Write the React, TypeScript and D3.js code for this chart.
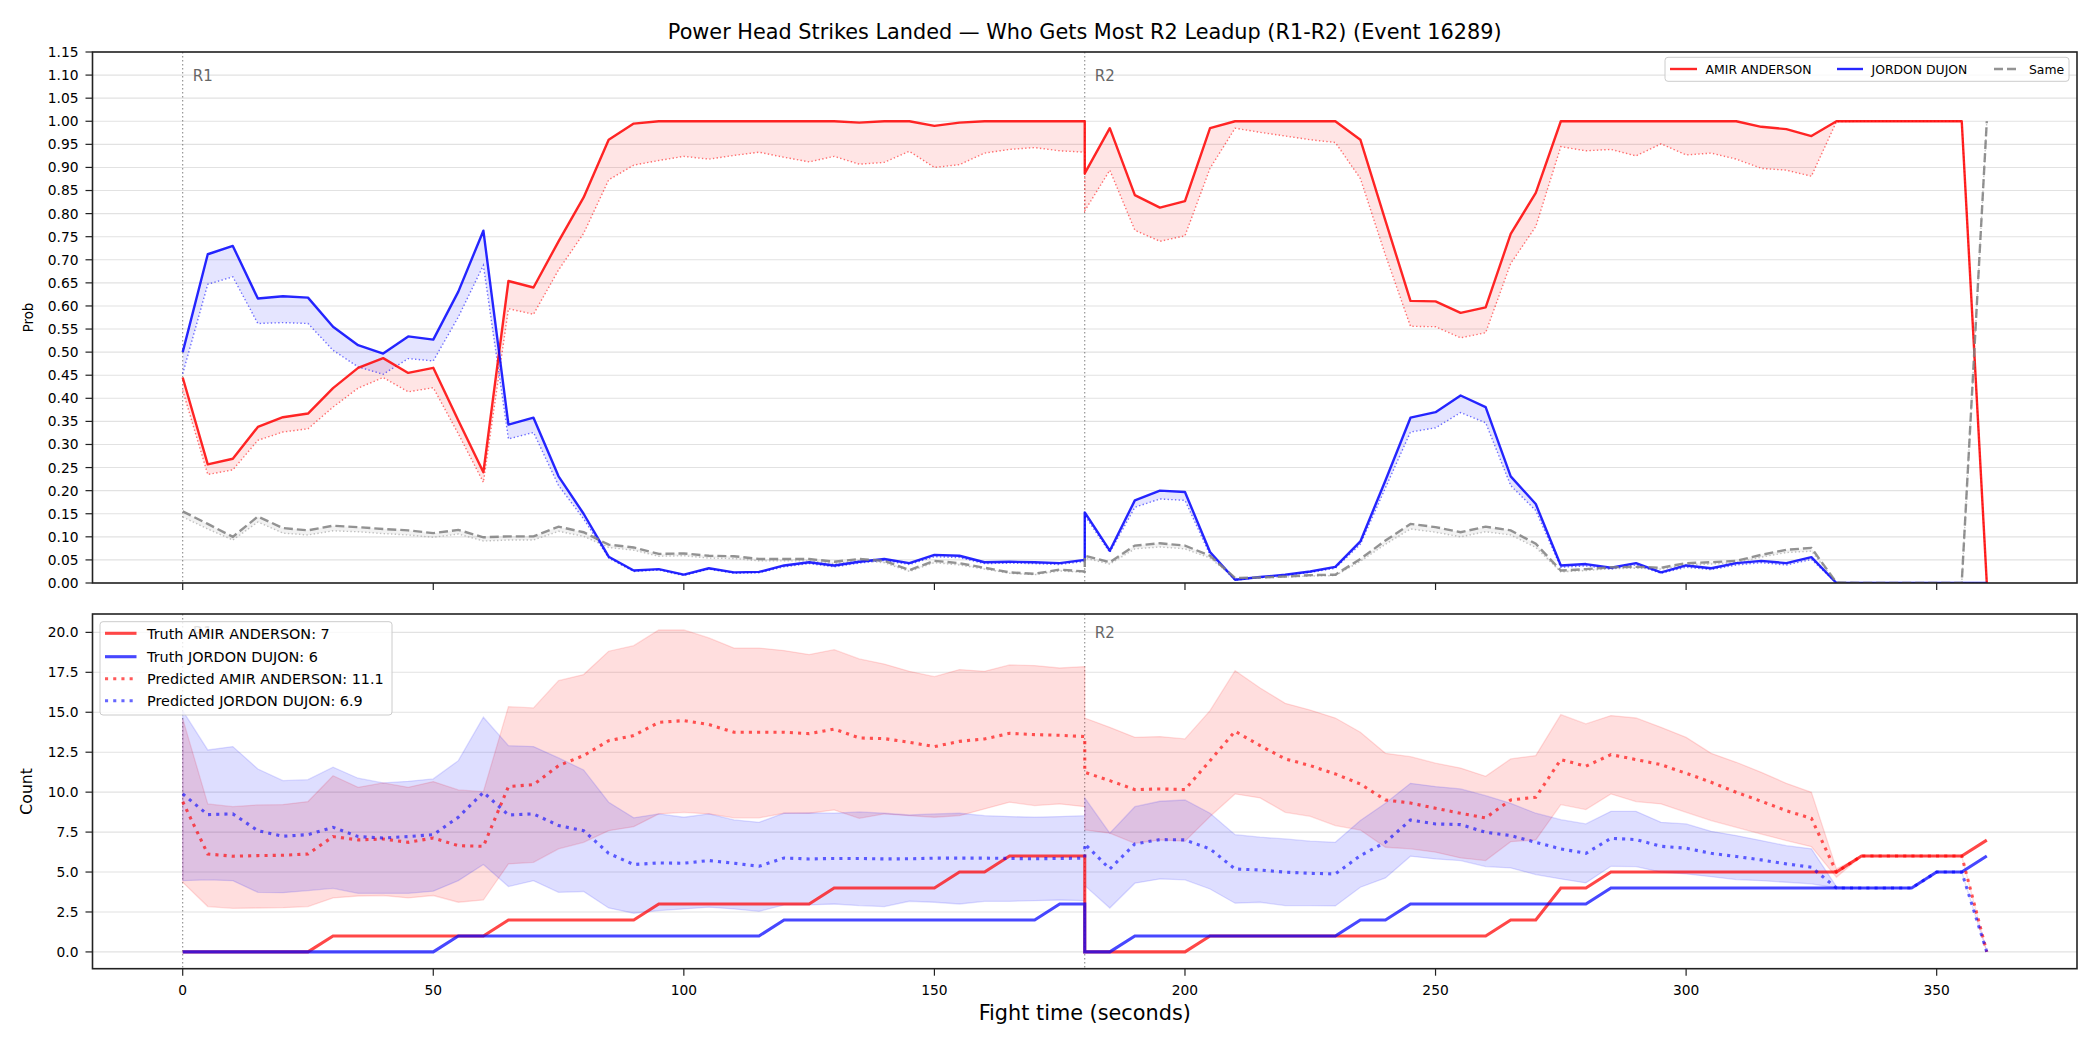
import React from 'react';
import * as d3 from 'd3';

// ---------- DATA ----------
const timeR1 = [0,5,10,15,20,25,30,35,40,45,50,55,60,65,70,75,80,85,90,95,100,105,110,115,120,125,130,135,140,145,150,155,160,165,170,175,180];
const timeR2 = [180,185,190,195,200,205,210,215,220,225,230,235,240,245,250,255,260,265,270,275,280,285,290,295,300,305,310,315,320,325,330,335,340,345,350,355,360];

const fighterA = 'AMIR ANDERSON';
const fighterB = 'JORDON DUJON';

// Top panel: probabilities (solid) and their lower dotted counterparts
const amirProb = [
  0.445,0.257,0.269,0.338,0.359,0.367,0.422,0.466,0.487,0.455,0.466,0.352,0.240,0.654,0.640,0.740,0.835,0.960,0.995,1.0,1.0,1.0,1.0,1.0,1.0,1.0,1.0,0.997,1.0,1.0,0.990,0.997,1.0,1.0,1.0,1.0,1.0,
  0.887,0.985,0.840,0.813,0.827,0.985,1.0,1.0,1.0,1.0,1.0,0.960,0.785,0.611,0.610,0.585,0.597,0.756,0.845,1.0,1.0,1.0,1.0,1.0,1.0,1.0,1.0,0.988,0.983,0.968,1.0,1.0,1.0,1.0,1.0,1.0,0.0,
];
const amirProbLow = [
  0.417,0.235,0.245,0.309,0.327,0.334,0.381,0.422,0.445,0.414,0.423,0.323,0.218,0.594,0.582,0.678,0.757,0.873,0.905,0.915,0.924,0.918,0.926,0.933,0.922,0.912,0.924,0.907,0.911,0.935,0.900,0.906,0.931,0.939,0.943,0.936,0.933,
  0.806,0.894,0.764,0.740,0.752,0.898,0.985,0.976,0.968,0.960,0.954,0.876,0.710,0.556,0.555,0.531,0.542,0.692,0.772,0.945,0.936,0.939,0.925,0.951,0.927,0.931,0.918,0.898,0.894,0.881,0.999,1.0,1.0,1.0,1.0,1.0,0.0,
];
const jordonProb = [
  0.500,0.712,0.730,0.616,0.621,0.618,0.555,0.515,0.497,0.534,0.527,0.631,0.763,0.343,0.358,0.231,0.150,0.057,0.027,0.030,0.018,0.032,0.023,0.024,0.038,0.045,0.038,0.046,0.052,0.043,0.061,0.059,0.045,0.046,0.045,0.043,0.050,
  0.153,0.070,0.179,0.200,0.197,0.067,0.007,0.013,0.018,0.025,0.035,0.090,0.222,0.358,0.370,0.406,0.381,0.231,0.171,0.038,0.041,0.033,0.043,0.023,0.038,0.032,0.043,0.048,0.043,0.056,0.0,0.0,0.0,0.0,0.0,0.0,0.0,
];
const jordonProbLow = [
  0.453,0.647,0.663,0.562,0.564,0.562,0.504,0.468,0.452,0.486,0.481,0.576,0.688,0.312,0.326,0.211,0.139,0.054,0.025,0.028,0.016,0.030,0.021,0.022,0.035,0.042,0.035,0.043,0.049,0.040,0.057,0.055,0.042,0.043,0.042,0.040,0.047,
  0.146,0.066,0.164,0.182,0.179,0.061,0.006,0.012,0.017,0.023,0.032,0.084,0.206,0.327,0.336,0.369,0.347,0.211,0.157,0.034,0.037,0.030,0.039,0.021,0.034,0.029,0.039,0.044,0.039,0.051,0.0,0.0,0.0,0.0,0.0,0.0,0.0,
];
const sameProb = [
  0.155,0.128,0.100,0.144,0.119,0.114,0.124,0.121,0.117,0.114,0.108,0.115,0.099,0.101,0.101,0.122,0.110,0.083,0.077,0.063,0.064,0.059,0.058,0.052,0.052,0.052,0.046,0.052,0.048,0.028,0.048,0.043,0.033,0.023,0.020,0.029,0.025,
  0.059,0.045,0.081,0.086,0.081,0.059,0.011,0.012,0.014,0.017,0.018,0.052,0.092,0.128,0.121,0.110,0.122,0.114,0.085,0.027,0.030,0.034,0.035,0.033,0.043,0.045,0.048,0.061,0.072,0.076,0.001,0.0,0.0,0.0,0.0,0.0,1.0,
];
const sameProbLow = [
  0.143,0.117,0.093,0.132,0.108,0.104,0.113,0.111,0.107,0.104,0.099,0.106,0.091,0.093,0.093,0.112,0.101,0.077,0.071,0.058,0.059,0.054,0.053,0.048,0.048,0.048,0.042,0.048,0.044,0.025,0.044,0.039,0.030,0.021,0.018,0.026,0.023,
  0.054,0.041,0.074,0.078,0.074,0.054,0.010,0.011,0.013,0.015,0.016,0.047,0.084,0.117,0.110,0.100,0.111,0.104,0.077,0.024,0.027,0.031,0.032,0.030,0.039,0.041,0.044,0.056,0.066,0.069,0.001,0.0,0.0,0.0,0.0,0.0,1.0,
];

// Bottom panel: counts
const amirTruth = [
  0,0,0,0,0,0,1,1,1,1,1,1,1,2,2,2,2,2,2,3,3,3,3,3,3,3,4,4,4,4,4,5,5,6,6,6,6,
  0,0,0,0,0,1,1,1,1,1,1,1,1,1,1,1,1,2,2,4,4,5,5,5,5,5,5,5,5,5,5,6,6,6,6,6,7,
];
const jordonTruth = [
  0,0,0,0,0,0,0,0,0,0,0,1,1,1,1,1,1,1,1,1,1,1,1,1,2,2,2,2,2,2,2,2,2,2,2,3,3,
  0,0,1,1,1,1,1,1,1,1,1,2,2,3,3,3,3,3,3,3,3,4,4,4,4,4,4,4,4,4,4,4,4,4,5,5,6,
];
const amirPred = [
  9.4,6.13,5.99,6.03,6.05,6.13,7.22,7.01,7.07,6.86,7.13,6.65,6.61,10.35,10.47,11.66,12.29,13.22,13.54,14.37,14.48,14.23,13.75,13.75,13.75,13.66,13.95,13.39,13.35,13.12,12.85,13.18,13.33,13.68,13.6,13.56,13.48,
  11.24,10.72,10.16,10.2,10.16,11.97,13.81,12.91,12.08,11.66,11.14,10.51,9.51,9.32,8.99,8.68,8.39,9.51,9.68,12.04,11.62,12.35,12.04,11.72,11.18,10.62,9.99,9.43,8.84,8.36,5.0,6,6,6,6,6,0,
];
const jordonPred = [
  9.89,8.59,8.64,7.59,7.24,7.34,7.80,7.22,7.13,7.22,7.34,8.43,9.99,8.57,8.64,7.91,7.59,6.17,5.47,5.57,5.55,5.72,5.55,5.36,5.88,5.82,5.85,5.85,5.82,5.83,5.87,5.87,5.87,5.85,5.83,5.85,5.87,
  6.76,5.19,6.76,7.03,7.01,6.45,5.19,5.13,4.99,4.92,4.88,6.03,6.86,8.26,8.01,7.97,7.49,7.28,6.86,6.45,6.17,7.11,7.03,6.61,6.49,6.17,5.97,5.76,5.51,5.30,4.0,4,4,4,5,5,0,
];
const amirHigh = [
  14.6,9.26,9.09,9.2,9.22,9.41,11.03,10.30,10.58,10.30,10.66,10.14,10.03,15.35,15.27,16.98,17.36,18.82,19.17,20.15,20.15,19.65,19.02,19.02,18.86,18.61,18.92,18.34,18.02,17.56,17.23,17.67,17.56,17.96,17.92,17.77,17.86,
  14.64,14.06,13.43,13.48,13.33,15.1,17.6,16.52,15.56,15.14,14.64,13.75,12.43,12.22,11.81,11.51,10.99,12.08,12.29,14.85,14.27,14.79,14.64,14.06,13.43,12.43,11.87,11.24,10.55,9.99,5.2,6,6,6,6,6,0,
];
const amirLow = [
  4.36,2.84,2.73,2.75,2.77,2.84,3.38,3.50,3.53,3.38,3.53,3.11,3.25,5.51,5.61,6.45,6.86,7.59,7.84,8.64,8.74,8.64,8.39,8.39,8.68,8.68,8.89,8.36,8.64,8.53,8.43,8.53,8.95,9.37,9.16,9.26,9.09,
  7.63,7.43,6.8,7.01,6.93,8.47,9.89,9.64,8.74,8.49,7.91,7.63,6.55,6.45,6.24,5.88,5.72,6.9,7.01,9.22,8.91,9.89,9.41,9.26,8.74,8.22,7.8,7.38,6.97,6.59,4.67,6,6,6,6,6,0,
];
const jordonHigh = [
  15.1,12.64,12.85,11.45,10.72,10.78,11.56,10.87,10.58,10.68,10.83,11.97,14.69,12.91,12.85,12.14,11.39,9.37,8.39,8.64,8.43,8.64,8.26,8.11,8.68,8.70,8.68,8.76,8.68,8.57,8.64,8.68,8.53,8.47,8.43,8.47,8.53,
  9.64,7.43,9.09,9.43,9.51,8.68,7.34,7.18,7.07,6.93,6.86,8.22,9.3,10.55,10.35,10.2,9.78,9.30,8.68,8.28,8.01,8.80,8.80,8.11,8.01,7.55,7.28,6.97,6.65,6.45,4.09,4,4,4,5,5,0,
];
const jordonLow = [
  4.46,4.51,4.46,3.73,3.71,3.84,3.98,3.67,3.67,3.67,3.80,4.46,5.47,4.09,4.46,3.73,3.78,2.75,2.42,2.59,2.69,2.80,2.69,2.54,2.94,2.94,3.0,2.9,2.84,3.17,3.11,3.0,3.17,3.17,3.21,3.25,3.21,
  4.15,2.75,4.30,4.57,4.51,3.94,3.05,3.11,2.90,2.9,2.88,4.05,4.63,5.99,5.82,5.72,5.34,5.26,4.84,4.57,4.32,5.36,5.34,4.99,4.88,4.71,4.53,4.46,4.36,4.26,4.0,4,4,4,5,5,0,
];

const amirTruthTotal = 7;
const jordonTruthTotal = 6;
const amirPredTotal = 11.1;
const jordonPredTotal = 6.9;

const probTicks = [0,0.05,0.1,0.15,0.2,0.25,0.3,0.35,0.4,0.45,0.5,0.55,0.6,0.65,0.7,0.75,0.8,0.85,0.9,0.95,1.0,1.05,1.1,1.15];
const countTicks = [0,2.5,5,7.5,10,12.5,15,17.5,20];
const timeTicks = [0,50,100,150,200,250,300,350];
const rounds = [{ label: 'R1', t: 0 }, { label: 'R2', t: 180 }];

const time = [...timeR1, ...timeR2];

const FONT = '"DejaVu Sans", Verdana, sans-serif';

export default function App() {
  const W = 2100, H = 1050;
  const L = 92.5, R = 2077;
  const topT = 52, topB = 583, botT = 614, botB = 968.7;

  const x = d3.scaleLinear().domain([-18, 378]).range([L, R]);
  const yP = d3.scaleLinear().domain([0, 1.15]).range([topB, topT]);
  const yC = d3.scaleLinear().domain([-1.05, 21.15]).range([botB, botT]);

  const lineP = d3.line<number>().x((_, i) => x(time[i])).y((d) => yP(d));
  const lineC = d3.line<number>().x((_, i) => x(time[i])).y((d) => yC(d));
  const areaP = (lo: number[], hi: number[]) =>
    d3.area<number>().x((_, i) => x(time[i])).y0((_, i) => yP(lo[i])).y1((d) => yP(d))(hi) || '';
  const areaC = (lo: number[], hi: number[]) =>
    d3.area<number>().x((_, i) => x(time[i])).y0((_, i) => yC(lo[i])).y1((d) => yC(d))(hi) || '';

  const RED = '#ff0000';
  const BLUE = '#0000ff';
  const tickFont = 13.8;

  const frame = (t: number, b: number) => (
    <rect x={L} y={t} width={R - L} height={b - t} fill="none" stroke="#222" strokeWidth={1.6} />
  );

  return (
    <div style={{ position: 'absolute', left: 0, top: 0, background: '#fff' }}>
      <svg width={W} height={H} viewBox={`0 0 ${W} ${H}`} style={{ display: 'block', fontFamily: FONT }}>
        <defs>
          <clipPath id="clipTop"><rect x={L} y={topT} width={R - L} height={topB - topT} /></clipPath>
          <clipPath id="clipBot"><rect x={L} y={botT} width={R - L} height={botB - botT} /></clipPath>
        </defs>
        <rect x={0} y={0} width={W} height={H} fill="#fff" />

        {/* Title */}
        <text x={(L + R) / 2} y={39} textAnchor="middle" fontSize={20.8} fill="#000">
          Power Head Strikes Landed — Who Gets Most R2 Leadup (R1-R2) (Event 16289)
        </text>

        {/* ===== TOP PANEL ===== */}
        <g>
          {probTicks.map((v) => (
            <line key={'gp' + v} x1={L} x2={R} y1={yP(v)} y2={yP(v)} stroke="#e2e2e2" strokeWidth={1.1} />
          ))}
          <g clipPath="url(#clipTop)">
            {rounds.map((r) => (
              <line key={'vt' + r.label} x1={x(r.t)} x2={x(r.t)} y1={topT} y2={topB} stroke="#555" strokeOpacity={0.75} strokeWidth={1} strokeDasharray="1.5,2.5" />
            ))}
            <path d={areaP(amirProbLow, amirProb)} fill={RED} fillOpacity={0.1} />
            <path d={areaP(jordonProbLow, jordonProb)} fill={BLUE} fillOpacity={0.1} />
            <path d={areaP(sameProbLow, sameProb)} fill="#808080" fillOpacity={0.1} />
            <path d={lineP(amirProbLow) || ''} fill="none" stroke={RED} strokeOpacity={0.55} strokeWidth={1.4} strokeDasharray="1.4,2.3" />
            <path d={lineP(jordonProbLow) || ''} fill="none" stroke={BLUE} strokeOpacity={0.55} strokeWidth={1.4} strokeDasharray="1.4,2.3" />
            <path d={lineP(sameProbLow) || ''} fill="none" stroke="#999" strokeOpacity={0.6} strokeWidth={1.4} strokeDasharray="1.4,2.3" />
            <path d={lineP(amirProb) || ''} fill="none" stroke={RED} strokeOpacity={0.85} strokeWidth={2.4} strokeLinejoin="round" />
            <path d={lineP(jordonProb) || ''} fill="none" stroke={BLUE} strokeOpacity={0.85} strokeWidth={2.4} strokeLinejoin="round" />
            <path d={lineP(sameProb) || ''} fill="none" stroke="#808080" strokeOpacity={0.85} strokeWidth={2.4} strokeDasharray="9,4" />
          </g>
          {rounds.map((r) => (
            <text key={'rt' + r.label} x={x(r.t + 2)} y={topT + 0.03 * (topB - topT) + 13} fontSize={15} fill="#666">{r.label}</text>
          ))}
          {frame(topT, topB)}
          {probTicks.map((v) => (
            <g key={'tp' + v}>
              <line x1={L - 7} x2={L} y1={yP(v)} y2={yP(v)} stroke="#222" strokeWidth={1.2} />
              <text x={L - 14} y={yP(v)} dy="0.36em" textAnchor="end" fontSize={tickFont} fill="#000">{v.toFixed(2)}</text>
            </g>
          ))}
          {timeTicks.map((t) => (
            <line key={'txt' + t} x1={x(t)} x2={x(t)} y1={topB} y2={topB + 7} stroke="#222" strokeWidth={1.2} />
          ))}
          <text transform={`translate(28,${(topT + topB) / 2}) rotate(-90)`} textAnchor="middle" dy="0.35em" fontSize={13.3} fill="#000">Prob</text>

          {/* top legend */}
          <g>
            <rect x={1665} y={57.3} width={404} height={24} rx={3} fill="#fff" fillOpacity={0.8} stroke="#cccccc" strokeWidth={1} />
            <line x1={1670} x2={1697} y1={69} y2={69} stroke={RED} strokeOpacity={0.85} strokeWidth={2.4} />
            <text x={1705.6} y={73.6} fontSize={12.4} fill="#000">{fighterA}</text>
            <line x1={1837} x2={1863} y1={69} y2={69} stroke={BLUE} strokeOpacity={0.85} strokeWidth={2.4} />
            <text x={1871.5} y={73.6} fontSize={12.4} fill="#000">{fighterB}</text>
            <line x1={1994} x2={2019} y1={69} y2={69} stroke="#808080" strokeOpacity={0.85} strokeWidth={2.4} strokeDasharray="9,4" />
            <text x={2029} y={73.6} fontSize={12.4} fill="#000">Same</text>
          </g>
        </g>

        {/* ===== BOTTOM PANEL ===== */}
        <g>
          {countTicks.map((v) => (
            <line key={'gc' + v} x1={L} x2={R} y1={yC(v)} y2={yC(v)} stroke="#e2e2e2" strokeWidth={1.1} />
          ))}
          <g clipPath="url(#clipBot)">
            {rounds.map((r) => (
              <line key={'vb' + r.label} x1={x(r.t)} x2={x(r.t)} y1={botT} y2={botB} stroke="#555" strokeOpacity={0.75} strokeWidth={1} strokeDasharray="1.5,2.5" />
            ))}
            <path d={areaC(amirLow, amirHigh)} fill={RED} fillOpacity={0.13} stroke={RED} strokeOpacity={0.13} strokeWidth={1.3} />
            <path d={areaC(jordonLow, jordonHigh)} fill={BLUE} fillOpacity={0.13} stroke={BLUE} strokeOpacity={0.13} strokeWidth={1.3} />
            <path d={lineC(amirTruth) || ''} fill="none" stroke={RED} strokeOpacity={0.72} strokeWidth={3.1} />
            <path d={lineC(jordonTruth) || ''} fill="none" stroke={BLUE} strokeOpacity={0.72} strokeWidth={3.1} />
            <path d={lineC(amirPred) || ''} fill="none" stroke={RED} strokeOpacity={0.65} strokeWidth={3.1} strokeDasharray="3.1,5.1" />
            <path d={lineC(jordonPred) || ''} fill="none" stroke={BLUE} strokeOpacity={0.6} strokeWidth={3.1} strokeDasharray="3.1,5.1" />
          </g>
          {rounds.map((r) => (
            <text key={'rb' + r.label} x={x(r.t + 2)} y={botT + 0.03 * (botB - botT) + 13} fontSize={15} fill="#666">{r.label}</text>
          ))}
          {frame(botT, botB)}
          {countTicks.map((v) => (
            <g key={'tc' + v}>
              <line x1={L - 7} x2={L} y1={yC(v)} y2={yC(v)} stroke="#222" strokeWidth={1.2} />
              <text x={L - 14} y={yC(v)} dy="0.36em" textAnchor="end" fontSize={tickFont} fill="#000">{v.toFixed(1)}</text>
            </g>
          ))}
          {timeTicks.map((t) => (
            <g key={'tb' + t}>
              <line x1={x(t)} x2={x(t)} y1={botB} y2={botB + 7} stroke="#222" strokeWidth={1.2} />
              <text x={x(t)} y={995} textAnchor="middle" fontSize={tickFont} fill="#000">{t}</text>
            </g>
          ))}
          <text transform={`translate(26.6,${(botT + botB) / 2}) rotate(-90)`} textAnchor="middle" dy="0.35em" fontSize={15.7} fill="#000">Count</text>
          <text x={(L + R) / 2} y={1020} textAnchor="middle" fontSize={20.8} fill="#000">Fight time (seconds)</text>

          {/* bottom legend */}
          <g>
            <rect x={100} y={621.7} width={292} height={93.3} rx={3} fill="#fff" fillOpacity={0.8} stroke="#cccccc" strokeWidth={1} />
            <line x1={105} x2={136.5} y1={633.3} y2={633.3} stroke={RED} strokeOpacity={0.72} strokeWidth={3.1} />
            <text x={147} y={638.5} fontSize={14.4} fill="#000">{`Truth ${fighterA}: ${amirTruthTotal}`}</text>
            <line x1={105} x2={136.5} y1={656.7} y2={656.7} stroke={BLUE} strokeOpacity={0.72} strokeWidth={3.1} />
            <text x={147} y={661.9} fontSize={14.4} fill="#000">{`Truth ${fighterB}: ${jordonTruthTotal}`}</text>
            <line x1={105} x2={136.5} y1={678.7} y2={678.7} stroke={RED} strokeOpacity={0.65} strokeWidth={3.1} strokeDasharray="3.1,5.1" />
            <text x={147} y={683.9} fontSize={14.4} fill="#000">{`Predicted ${fighterA}: ${amirPredTotal}`}</text>
            <line x1={105} x2={136.5} y1={700.7} y2={700.7} stroke={BLUE} strokeOpacity={0.6} strokeWidth={3.1} strokeDasharray="3.1,5.1" />
            <text x={147} y={705.9} fontSize={14.4} fill="#000">{`Predicted ${fighterB}: ${jordonPredTotal}`}</text>
          </g>
        </g>
      </svg>
    </div>
  );
}
